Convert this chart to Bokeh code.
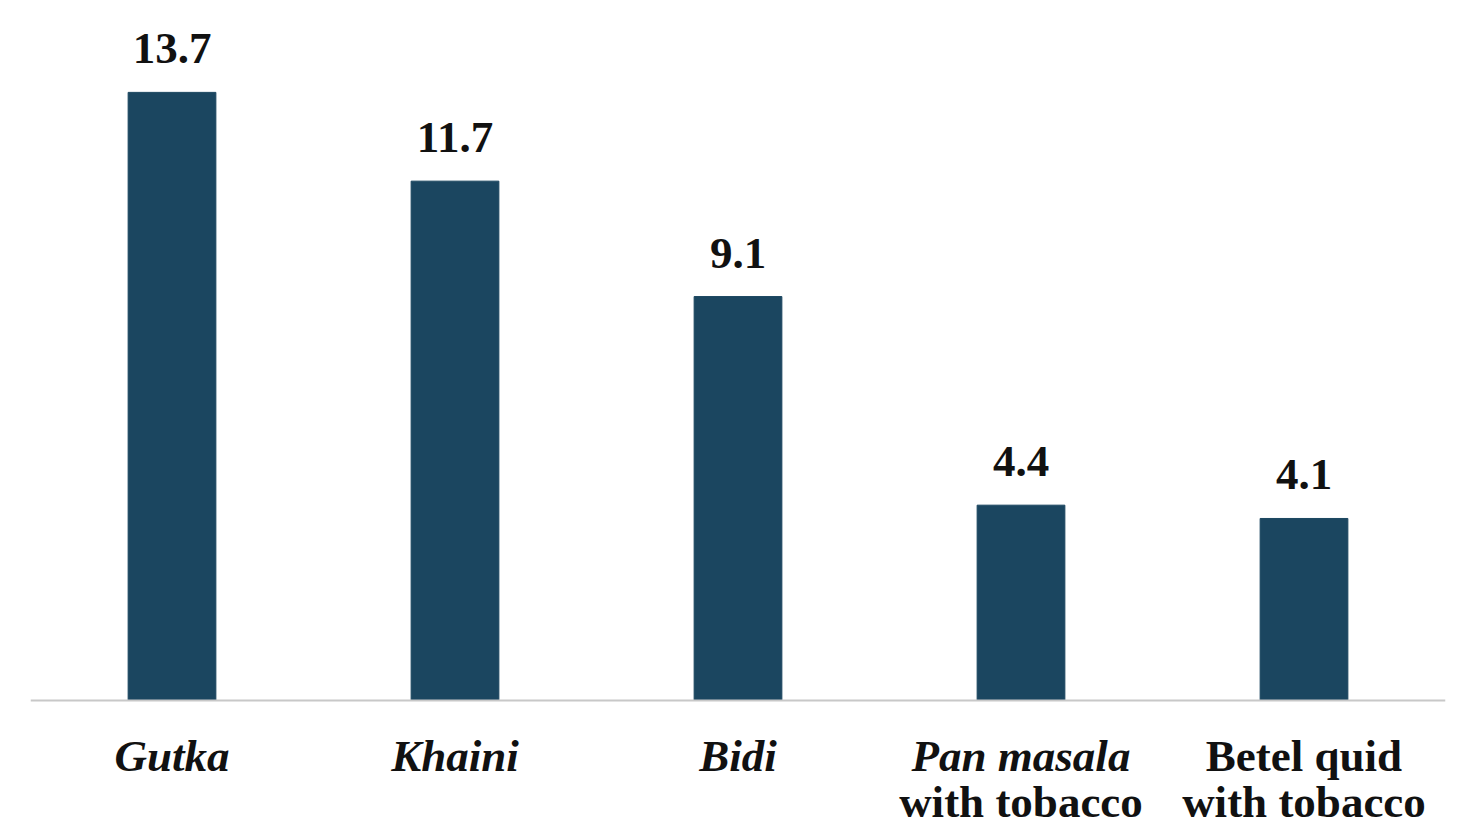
from bokeh.plotting import figure
from bokeh.models import ColumnDataSource, LabelSet, Range1d, Span
from bokeh.embed import file_html
from bokeh.resources import INLINE

categories = ["Gutka", "Khaini", "Bidi", "Pan masala with tobacco", "Betel quid with tobacco"]
values = [13.7, 11.7, 9.1, 4.4, 4.1]
value_labels = ["13.7", "11.7", "9.1", "4.4", "4.1"]
line1 = ["Gutka", "Khaini", "Bidi", "Pan masala", "Betel quid"]
line1_italic = [True, True, True, True, False]
line2 = ["", "", "", "with tobacco", "with tobacco"]

BAR = "#1b4660"
FONT = "Liberation Serif"

src = ColumnDataSource(dict(cat=categories, val=values, lab=value_labels,
                            l2=line2, zero=[0] * len(categories)))
it_idx = [i for i, f in enumerate(line1_italic) if f]
no_idx = [i for i, f in enumerate(line1_italic) if not f]
src_it = ColumnDataSource(dict(cat=[categories[i] for i in it_idx],
                               l1=[line1[i] for i in it_idx], zero=[0] * len(it_idx)))
src_no = ColumnDataSource(dict(cat=[categories[i] for i in no_idx],
                               l1=[line1[i] for i in no_idx], zero=[0] * len(no_idx)))

p = figure(x_range=categories, y_range=Range1d(-2.93, 15.77), width=1473, height=830,
           output_backend="svg", toolbar_location=None,
           min_border_left=30, min_border_right=28, min_border_top=0, min_border_bottom=0)
p.vbar(x="cat", top="val", width=0.31, source=src, fill_color=BAR, line_color=BAR)

p.xgrid.visible = False
p.ygrid.visible = False
p.xaxis.visible = False
p.yaxis.visible = False
p.outline_line_color = None
p.add_layout(Span(location=0, dimension="width", line_color="#c8c8c8", line_width=2))

vals = LabelSet(x="cat", y="val", text="lab", source=src, y_offset=29,
                text_align="center", text_baseline="alphabetic",
                text_font=FONT, text_font_style="bold", text_font_size="45px",
                text_color="#111111")
p.add_layout(vals)

l1a = LabelSet(x="cat", y="zero", text="l1", source=src_it, y_offset=-71,
               text_align="center", text_baseline="alphabetic",
               text_font=FONT, text_font_style="bold italic", text_font_size="45px",
               text_color="#111111")
p.add_layout(l1a)
l1b = LabelSet(x="cat", y="zero", text="l1", source=src_no, y_offset=-71,
               text_align="center", text_baseline="alphabetic",
               text_font=FONT, text_font_style="bold", text_font_size="45px",
               text_color="#111111")
p.add_layout(l1b)

l2 = LabelSet(x="cat", y="zero", text="l2", source=src, y_offset=-117,
              text_align="center", text_baseline="alphabetic",
              text_font=FONT, text_font_style="bold", text_font_size="45px",
              text_color="#111111")
p.add_layout(l2)

open("out.html", "w").write(file_html(p, INLINE))
